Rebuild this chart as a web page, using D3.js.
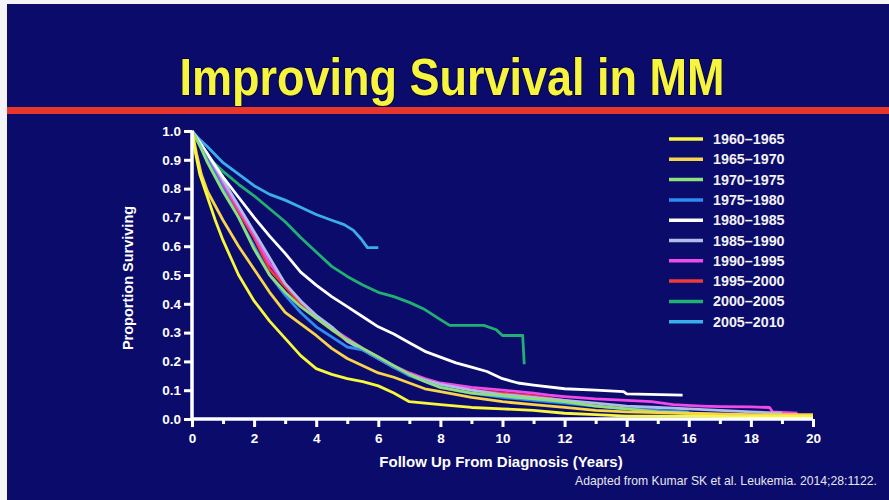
<!DOCTYPE html>
<html>
<head>
<meta charset="utf-8">
<script src="https://cdn.jsdelivr.net/npm/d3@7"></script>
<style>
  html, body { margin: 0; padding: 0; background: #fff; }
  svg { display: block; }
</style>
</head>
<body>
<div id="chart"></div>
<script>
// Survival curves: [years, proportion surviving]
const periods = ['1960–1965', '1965–1970', '1970–1975', '1975–1980', '1980–1985',
                 '1985–1990', '1990–1995', '1995–2000', '2000–2005', '2005–2010'];
const periodColors = ['#f7f73c', '#f8d44a', '#8fe07a', '#2f8cf0', '#ffffff',
                      '#aebde8', '#f24ae8', '#f03a3a', '#1fb072', '#3aaeea'];

const s1960 = [[0,1],[0.1,0.93],[0.25,0.85],[0.5,0.77],[0.75,0.69],[1,0.62],[1.5,0.5],[2,0.41],[2.5,0.34],[3,0.28],[3.5,0.22],[4,0.175],[4.5,0.155],[5,0.14],[5.5,0.13],[6,0.115],[6.5,0.09],[7,0.06],[7.5,0.055],[8,0.05],[9,0.04],[10,0.035],[11,0.03],[12,0.02],[13,0.015],[14,0.01],[16,0.01],[18,0.008],[20,0.008]];
const s1965 = [[0,1],[0.15,0.92],[0.3,0.85],[0.5,0.79],[1,0.69],[1.5,0.6],[2,0.52],[2.5,0.44],[3,0.37],[3.5,0.33],[4,0.29],[4.5,0.245],[5,0.21],[5.5,0.185],[6,0.16],[6.5,0.145],[7,0.125],[7.5,0.105],[8,0.095],[9,0.075],[10,0.06],[11,0.05],[12,0.04],[13,0.03],[14,0.025],[16,0.02],[18,0.015],[20,0.015]];
const s1970 = [[0,1],[0.25,0.95],[0.5,0.89],[1,0.79],[1.5,0.7],[2,0.59],[2.5,0.5],[3,0.44],[3.5,0.39],[4,0.35],[4.5,0.31],[5,0.275],[5.5,0.245],[6,0.215],[6.5,0.185],[7,0.155],[7.5,0.13],[8,0.11],[9,0.09],[10,0.08],[11,0.07],[12,0.06],[13,0.045],[14,0.035],[15,0.025],[16,0.02],[17,0.015]];
const s1975 = [[0,1],[0.25,0.95],[0.5,0.9],[1,0.8],[1.5,0.7],[2,0.6],[2.5,0.5],[3,0.43],[3.5,0.37],[4,0.32],[4.5,0.285],[5,0.25],[5.5,0.24],[6,0.21],[6.5,0.18],[7,0.15],[7.5,0.13],[8,0.11],[9,0.09],[10,0.075],[11,0.065],[12,0.055],[13,0.045],[14,0.035],[15,0.03],[16,0.025]];
const s1980 = [[0,1],[0.5,0.92],[1,0.84],[1.5,0.77],[2,0.7],[2.5,0.635],[3,0.575],[3.5,0.51],[4,0.465],[4.5,0.425],[5,0.39],[5.5,0.355],[6,0.32],[6.5,0.295],[7,0.265],[7.5,0.235],[8,0.215],[8.5,0.195],[9,0.18],[9.5,0.165],[10,0.14],[10.5,0.125],[11,0.118],[12,0.105],[13,0.1],[13.9,0.095],[14,0.087],[15.8,0.083]];
const s1985 = [[0,1],[0.5,0.92],[1,0.83],[1.5,0.74],[2,0.65],[2.5,0.56],[3,0.47],[3.5,0.41],[4,0.36],[4.5,0.32],[5,0.27],[5.5,0.24],[6,0.21],[6.5,0.18],[7,0.155],[7.5,0.135],[8,0.12],[9,0.1],[10,0.085],[11,0.075],[12,0.065],[13,0.055],[14,0.045],[15,0.04],[16,0.035],[17,0.03],[18,0.025],[19,0.02]];
const s1990 = [[0,1],[0.5,0.92],[1,0.82],[1.5,0.73],[2,0.64],[2.5,0.54],[3,0.47],[3.5,0.41],[4,0.355],[4.5,0.315],[5,0.28],[5.5,0.245],[6,0.215],[6.5,0.185],[7,0.16],[7.5,0.14],[8,0.125],[8.5,0.118],[9,0.11],[10,0.1],[11,0.09],[11.5,0.083],[12,0.078],[13,0.07],[14,0.065],[14.8,0.06],[15.5,0.05],[16.4,0.045],[17,0.043],[18,0.042],[18.6,0.04],[18.7,0.025],[19.5,0.02]];
const s1995 = [[0,1],[0.5,0.91],[1,0.81],[1.5,0.72],[2,0.63],[2.5,0.52],[3,0.46],[3.5,0.4],[4,0.35],[4.5,0.31],[5,0.27],[5.5,0.24],[6,0.21],[6.5,0.18],[7,0.155],[7.5,0.135],[8,0.12],[9,0.1],[10,0.09],[11,0.08],[12,0.065],[12.5,0.056],[13,0.05],[14,0.042],[15,0.035]];
const s2000 = [[0,1],[0.5,0.91],[1,0.86],[1.5,0.815],[2,0.775],[2.5,0.73],[3,0.685],[3.5,0.63],[4,0.58],[4.5,0.53],[5,0.495],[5.5,0.465],[6,0.44],[6.5,0.425],[7,0.405],[7.5,0.38],[8,0.345],[8.3,0.325],[9.4,0.325],[9.8,0.31],[10,0.29],[10.65,0.29],[10.7,0.19]];
const s2005 = [[0,1],[0.25,0.97],[0.5,0.945],[1,0.89],[1.5,0.85],[2,0.81],[2.5,0.78],[3,0.76],[3.5,0.735],[4,0.71],[4.5,0.69],[4.9,0.675],[5.2,0.655],[5.45,0.625],[5.65,0.595],[6,0.595]];
const seriesData = [s1960, s1965, s1970, s1975, s1980, s1985, s1990, s1995, s2000, s2005];

const xTicks = [0, 2, 4, 6, 8, 10, 12, 14, 16, 18, 20];
const xMinorTicks = [1, 3, 5, 7, 9, 11, 13, 15, 17, 19];
const yTicks = [0, 0.1, 0.2, 0.3, 0.4, 0.5, 0.6, 0.7, 0.8, 0.9, 1.0];

const width = 889, height = 500;
const bg = '#0b0b6c';
const font = 'Liberation Sans, Arial, sans-serif';

const svg = d3.select('#chart').append('svg')
  .attr('width', width)
  .attr('height', height);

// white photo edge, then the slide
svg.append('rect').attr('width', width).attr('height', height).attr('fill', '#f4f4f6');
svg.append('rect').attr('x', 7).attr('y', 4).attr('width', width - 7).attr('height', height - 4).attr('fill', bg);

// Title
svg.append('text')
  .attr('x', 452).attr('y', 95)
  .attr('text-anchor', 'middle')
  .attr('font-family', '"Liberation Sans Narrow", "Arial Narrow", sans-serif')
  .attr('font-weight', 'bold')
  .attr('font-size', 52)
  .attr('textLength', 545)
  .attr('lengthAdjust', 'spacingAndGlyphs')
  .attr('fill', '#f6f43e')
  .style('paint-order', 'stroke')
  .attr('stroke', '#05053a')
  .attr('stroke-width', 2)
  .text('Improving Survival in MM');

// red rule
svg.append('rect').attr('x', 7).attr('y', 107).attr('width', width - 7).attr('height', 7).attr('fill', '#e8362c');

// Scales
const x = d3.scaleLinear().domain([0, 20]).range([192, 813]);
const y = d3.scaleLinear().domain([0, 1]).range([419, 131]);

const plot = svg.append('g');

// Curves (drawn newest first so the older ones sit on top in the tail)
const line = d3.line()
  .x(d => x(d[0]))
  .y(d => y(d[1]))
  .curve(d3.curveLinear);

const order = d3.range(seriesData.length).reverse();
plot.selectAll('path.curve')
  .data(order)
  .enter().append('path')
  .attr('class', 'curve')
  .attr('d', i => line(seriesData[i]))
  .attr('fill', 'none')
  .attr('stroke', i => periodColors[i])
  .attr('stroke-width', 2.8)
  .attr('stroke-linejoin', 'round');

// Axes
const xAxis = svg.append('g')
  .attr('transform', `translate(0,${y(0)})`)
  .call(d3.axisBottom(x).tickValues(xTicks).tickSize(8).tickPadding(6).tickFormat(d3.format('d')));
const xMinor = svg.append('g')
  .attr('transform', `translate(0,${y(0)})`)
  .call(d3.axisBottom(x).tickValues(xMinorTicks).tickSize(5).tickFormat(''));
const yAxis = svg.append('g')
  .attr('transform', `translate(${x(0)},0)`)
  .call(d3.axisLeft(y).tickValues(yTicks).tickSize(8).tickPadding(3).tickFormat(d3.format('.1f')));

[xAxis, xMinor, yAxis].forEach(g => {
  g.select('.domain').attr('stroke', '#fff').attr('stroke-width', 3.5);
  g.selectAll('.tick line').attr('stroke', '#fff').attr('stroke-width', 3);
  g.selectAll('.tick text')
    .attr('fill', '#fff')
    .attr('font-family', font)
    .attr('font-weight', 'bold')
    .attr('font-size', 13.5);
});
xMinor.select('.domain').remove();
xAxis.select('.domain').attr('d', `M${x(0)},0H${x(20)}`);
yAxis.select('.domain').attr('d', `M0,${y(0)}V${y(1)}`);

// Axis titles
svg.append('text')
  .attr('x', 501).attr('y', 467)
  .attr('text-anchor', 'middle')
  .attr('font-family', font).attr('font-weight', 'bold').attr('font-size', 15)
  .attr('fill', '#fff')
  .text('Follow Up From Diagnosis (Years)');

svg.append('text')
  .attr('transform', 'translate(133,278) rotate(-90)')
  .attr('text-anchor', 'middle')
  .attr('font-family', font).attr('font-weight', 'bold').attr('font-size', 14.5)
  .attr('fill', '#fff')
  .text('Proportion Surviving');

// Legend
const legend = svg.append('g').attr('transform', 'translate(669,139)');
const item = legend.selectAll('g')
  .data(periods)
  .enter().append('g')
  .attr('transform', (d, i) => `translate(0,${i * 20.3})`);
item.append('line')
  .attr('x1', 0).attr('x2', 34)
  .attr('stroke', (d, i) => periodColors[i])
  .attr('stroke-width', 3.5);
item.append('text')
  .attr('x', 44).attr('y', 5)
  .attr('font-family', font).attr('font-weight', 'bold').attr('font-size', 14.3)
  .attr('fill', '#f2f2f2')
  .text(d => d);

// Source note
svg.append('text')
  .attr('x', 877).attr('y', 485)
  .attr('text-anchor', 'end')
  .attr('font-family', font).attr('font-size', 12.2)
  .attr('fill', '#e6e6ee')
  .text('Adapted from Kumar SK et al. Leukemia. 2014;28:1122.');
</script>
</body>
</html>
